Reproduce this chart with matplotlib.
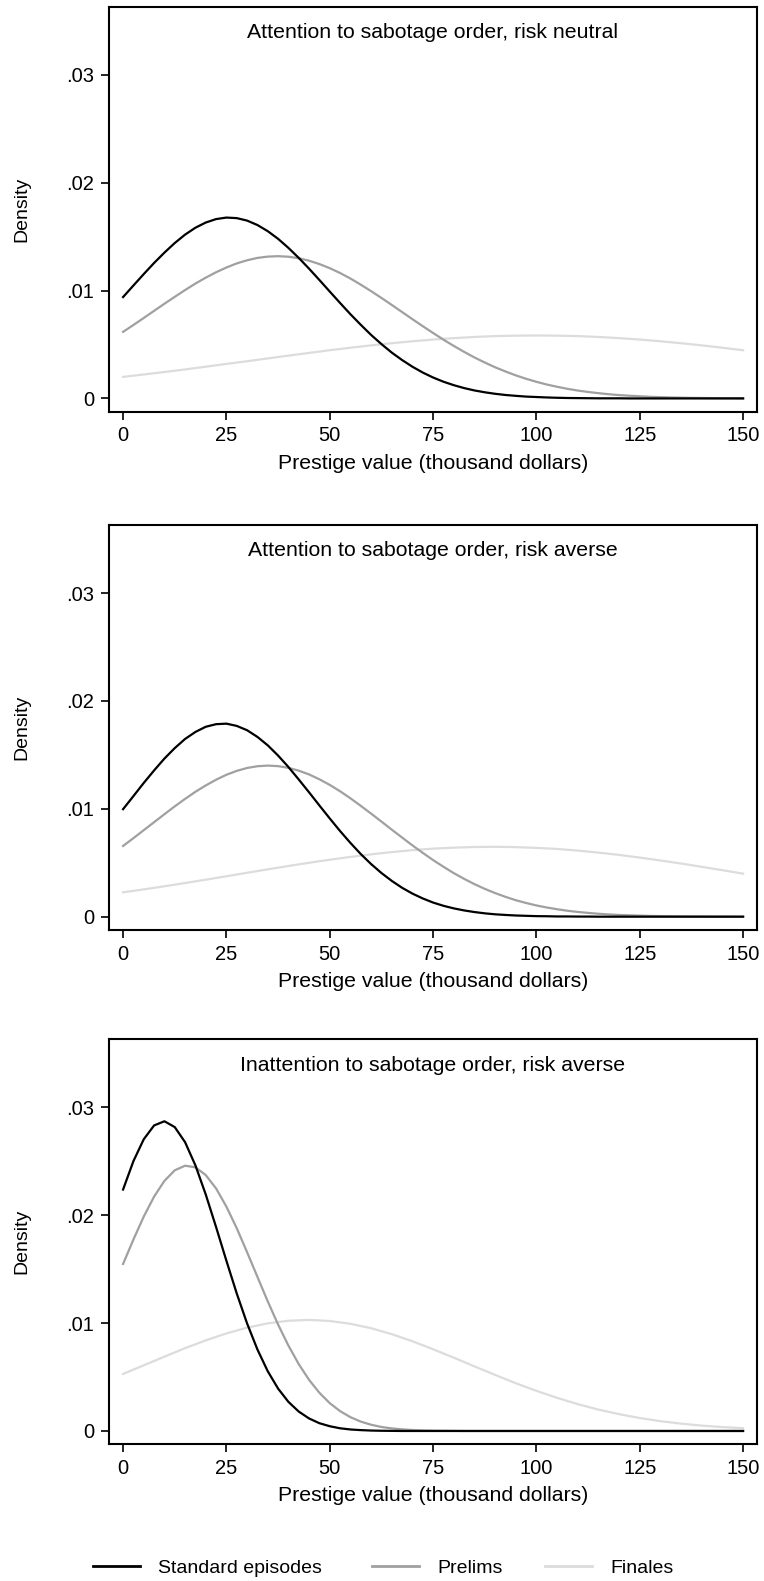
import numpy as np
import matplotlib.pyplot as plt
from matplotlib.lines import Line2D

plt.rcParams['font.family'] = ['Liberation Sans', 'DejaVu Sans']

# prestige value grids (thousand dollars)
x_fine = np.arange(0, 150.1, 2.5)   # for the peaked curves
x_coarse = np.arange(0, 151, 5)     # for the flat finales curves

titles = ["Attention to sabotage order, risk neutral",
          "Attention to sabotage order, risk averse",
          "Inattention to sabotage order, risk averse"]
series_names = ["Standard episodes", "Prelims", "Finales"]

# densities
neutral_standard = [0.00940, 0.01047, 0.01153, 0.01256, 0.01352, 0.01441, 0.01519, 0.01583, 0.01631, 0.01663,
                    0.01677, 0.01672, 0.01649, 0.01608, 0.01551, 0.01480, 0.01396, 0.01303, 0.01203, 0.01098,
                    0.00991, 0.00885, 0.00781, 0.00683, 0.00589, 0.00504, 0.00425, 0.00356, 0.00294, 0.00240,
                    0.00194, 0.00155, 0.00123, 0.00096, 0.00074, 0.00057, 0.00043, 0.00032, 0.00024, 0.00017,
                    0.00013, 0.00009, 0.00006, 0.00004, 0.00003, 0.00002, 0.00001, 0.00001, 0.00001] + [0] * 12
neutral_prelims = [0.00617, 0.00681, 0.00746, 0.00812, 0.00878, 0.00942, 0.01005, 0.01065, 0.01120, 0.01170,
                   0.01214, 0.01252, 0.01281, 0.01303, 0.01315, 0.01319, 0.01314, 0.01300, 0.01277, 0.01246,
                   0.01208, 0.01163, 0.01112, 0.01055, 0.00995, 0.00932, 0.00867, 0.00801, 0.00735, 0.00670,
                   0.00607, 0.00545, 0.00487, 0.00432, 0.00380, 0.00333, 0.00289, 0.00250, 0.00214, 0.00182,
                   0.00154, 0.00129, 0.00108, 0.00089, 0.00073, 0.00060, 0.00049, 0.00039, 0.00031, 0.00025,
                   0.00020, 0.00015, 0.00012, 0.00009, 0.00007, 0.00005, 0.00004, 0.00003, 0.00002, 0.00002,
                   0.00001]
neutral_finales = [0.00200, 0.00222, 0.00245, 0.00269, 0.00294, 0.00320, 0.00345, 0.00371,
                   0.00397, 0.00422, 0.00447, 0.00470, 0.00492, 0.00512, 0.00530, 0.00546,
                   0.00559, 0.00570, 0.00578, 0.00582, 0.00584, 0.00582, 0.00578, 0.00570,
                   0.00559, 0.00546, 0.00530, 0.00512, 0.00492, 0.00470, 0.00447]

averse_standard = [0.00997, 0.01118, 0.01240, 0.01356, 0.01466, 0.01563, 0.01648, 0.01713, 0.01761, 0.01785,
                   0.01790, 0.01769, 0.01729, 0.01667, 0.01589, 0.01494, 0.01388, 0.01272, 0.01153, 0.01031,
                   0.00911, 0.00794, 0.00684, 0.00581, 0.00488, 0.00405, 0.00332, 0.00268, 0.00214, 0.00169,
                   0.00131, 0.00101, 0.00077, 0.00058, 0.00043, 0.00031, 0.00022, 0.00016, 0.00011, 0.00008,
                   0.00005, 0.00004, 0.00002, 0.00002, 0.00001, 0.00001] + [0] * 15
averse_prelims = [0.00656, 0.00728, 0.00802, 0.00876, 0.00950, 0.01023, 0.01092, 0.01158, 0.01217, 0.01270,
                  0.01316, 0.01352, 0.01379, 0.01395, 0.01401, 0.01396, 0.01380, 0.01354, 0.01319, 0.01274,
                  0.01222, 0.01163, 0.01098, 0.01028, 0.00956, 0.00882, 0.00807, 0.00734, 0.00661, 0.00592,
                  0.00525, 0.00463, 0.00404, 0.00351, 0.00302, 0.00258, 0.00219, 0.00184, 0.00153, 0.00127,
                  0.00104, 0.00085, 0.00069, 0.00055, 0.00044, 0.00035, 0.00027, 0.00021, 0.00016, 0.00013,
                  0.00010, 0.00007, 0.00005, 0.00004, 0.00003, 0.00002, 0.00002, 0.00001, 0.00001, 0.00001,
                  0]
averse_finales = [0.00226, 0.00253, 0.00282, 0.00312, 0.00343, 0.00375, 0.00407, 0.00439,
                  0.00470, 0.00500, 0.00528, 0.00554, 0.00578, 0.00599, 0.00617, 0.00631,
                  0.00640, 0.00646, 0.00648, 0.00645, 0.00638, 0.00628, 0.00613, 0.00594,
                  0.00573, 0.00548, 0.00521, 0.00493, 0.00462, 0.00431, 0.00399]

inatt_standard = [0.02239, 0.02502, 0.02705, 0.02833, 0.02872, 0.02818, 0.02678, 0.02463, 0.02193, 0.01891,
                  0.01578, 0.01275, 0.00997, 0.00756, 0.00554, 0.00393, 0.00270, 0.00180, 0.00116, 0.00072,
                  0.00044, 0.00025, 0.00014, 0.00008, 0.00004, 0.00002, 0.00001] + [0] * 34
inatt_prelims = [0.01549, 0.01775, 0.01988, 0.02173, 0.02319, 0.02417, 0.02460, 0.02445, 0.02373, 0.02249,
                 0.02080, 0.01880, 0.01658, 0.01429, 0.01202, 0.00987, 0.00792, 0.00620, 0.00474, 0.00354,
                 0.00258, 0.00184, 0.00128, 0.00087, 0.00058, 0.00037, 0.00024, 0.00015, 0.00009, 0.00005,
                 0.00003, 0.00002, 0.00001] + [0] * 28
inatt_finales = [0.00529, 0.00609, 0.00689, 0.00768, 0.00840, 0.00905, 0.00958, 0.00998,
                 0.01022, 0.01030, 0.01020, 0.00994, 0.00953, 0.00898, 0.00832, 0.00758,
                 0.00680, 0.00599, 0.00520, 0.00443, 0.00372, 0.00307, 0.00249, 0.00198,
                 0.00156, 0.00120, 0.00091, 0.00068, 0.00050, 0.00036, 0.00026]

panels = [
    [neutral_standard, neutral_prelims, neutral_finales],
    [averse_standard, averse_prelims, averse_finales],
    [inatt_standard, inatt_prelims, inatt_finales],
]

colors = ['#000000', '#a0a0a0', '#dcdcdc']
xticks = [0, 25, 50, 75, 100, 125, 150]
yticks = [0, 0.01, 0.02, 0.03]
ytick_labels = ['0', '.01', '.02', '.03']

fig = plt.figure(figsize=(7.64, 15.81), dpi=100)
bottoms = [0.7396, 0.4118, 0.0865]
ax_h_px = 405

for i, (curves, title) in enumerate(zip(panels, titles)):
    ax = fig.add_axes([0.1427, bottoms[i], 0.8478, 0.2562])
    xs = [x_fine, x_fine, x_coarse]
    # light curves first so black sits on top
    for xv, ys, c in reversed(list(zip(xs, curves, colors))):
        ax.plot(xv, ys, color=c, lw=1.6)
    ax.set_xlim(-3.4, 153.3)
    ax.set_ylim(-0.00123, 0.03633)
    ax.set_xticks(xticks)
    ax.set_xticklabels([str(t) for t in xticks])
    ax.set_yticks(yticks)
    ax.set_yticklabels(ytick_labels)
    ax.tick_params(direction='out', length=6, width=1.2, labelsize=14.5, pad=4.5)
    for s in ax.spines.values():
        s.set_linewidth(1.5)
    ax.text(0.5, 1 - 26 / ax_h_px, title, transform=ax.transAxes,
            ha='center', va='center', fontsize=15.3)
    ax.set_xlabel("Prestige value (thousand dollars)", fontsize=15.3)
    ax.xaxis.set_label_coords(0.5, -51.5 / ax_h_px)
    ax.xaxis.label.set_verticalalignment('center')
    ax.set_ylabel("Density", fontsize=14)
    ax.yaxis.set_label_coords(-0.134, 0.5)
    ax.yaxis.label.set_verticalalignment('center')

# legend, one entry per slot like the original layout
slots = [93, 372, 545]
for name, c, hx in zip(series_names, colors, slots):
    h = Line2D([], [], color=c, lw=2)
    fig.legend([h], [name], loc='center left', bbox_to_anchor=(hx / 764, 1 - 1568 / 1581),
               frameon=False, fontsize=14, handlelength=2.4, handletextpad=0.95,
               borderpad=0, borderaxespad=0)

fig.savefig("out.png", dpi=100)
